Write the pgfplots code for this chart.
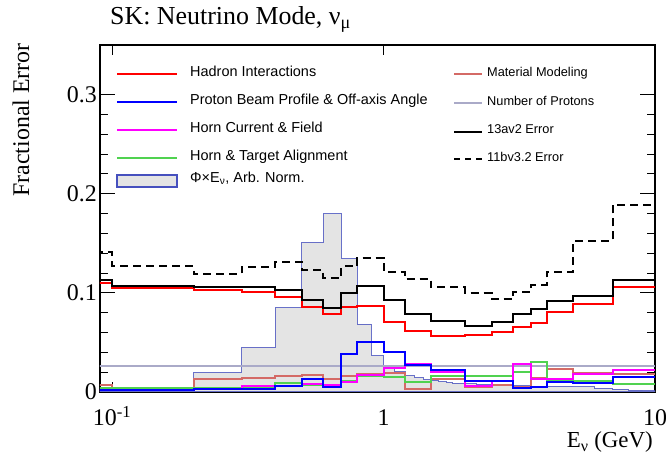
\documentclass[border=0pt]{standalone}
\usepackage{fontspec}
\setmainfont{Liberation Serif}
\newfontfamily\arial{Liberation Sans}
\usepackage{pgfplots}
\pgfplotsset{compat=1.18}
\definecolor{matcol}{RGB}{212,106,102}
\definecolor{protcol}{RGB}{170,170,200}
\definecolor{hgreen}{RGB}{80,210,80}
\definecolor{hmag}{RGB}{255,0,255}
\definecolor{hblue}{RGB}{0,0,255}
\definecolor{hred}{RGB}{255,0,0}
\definecolor{fluxfill}{RGB}{228,228,228}
\definecolor{fluxline}{RGB}{70,80,190}
\begin{document}
\begin{tikzpicture}[x=1bp,y=1bp]
\begin{axis}[
  at={(100bp,64bp)}, anchor=south west,
  width=555bp, height=347bp, scale only axis,
  xmode=log, log basis x=10,
  xmin=0.0903, xmax=10, ymin=0, ymax=0.35,
  xtick={0.1,1,10}, xticklabels={10\textsuperscript{-1},1,10},
  ytick={0,0.1,0.2,0.3}, yticklabels={0,0.1,0.2,0.3},
  minor y tick num=4,
  tick align=inside,
  major tick length=15bp, minor tick length=8bp,
  xtick style={/pgfplots/major tick length=10bp,/pgfplots/minor tick length=5bp},
  every tick/.style={black,line width=0.8bp},
  axis line style={line width=1.2bp},
  tick label style={font=\fontsize{24}{24}\selectfont},
  yticklabel style={anchor=east,inner sep=0pt,xshift=-3bp},
  xticklabel style={anchor=base,inner sep=0pt,yshift=-34bp},
  clip=true,
  const plot,
  every axis plot/.append style={line width=2bp},
]
% flux (arb. norm.)
\addplot[fill=fluxfill, draw=fluxline, draw opacity=0.8, line width=1bp] coordinates {
(0.05,0.001) (0.1,0.003) (0.2,0.0195) (0.3,0.045) (0.4,0.0852) (0.5,0.151)
(0.6,0.1798) (0.7,0.1343) (0.8,0.0684) (0.9,0.0367) (1.0,0.025) (1.1,0.0205)
(1.2,0.0165) (1.3,0.0145) (1.4,0.0128) (1.5,0.0115) (1.6,0.0105) (1.7,0.0097)
(1.8,0.009) (1.9,0.0085) (2.0,0.0082) (2.2,0.0078) (2.4,0.0074) (2.6,0.007)
(2.8,0.0067) (3.0,0.0064) (3.5,0.006) (4.0,0.0058) (5.0,0.0052) (6.0,0.004)
(7.0,0.0028) (8.0,0.002) (9.0,0.0012) (10.0,0.0012)} \closedcycle;
% number of protons
\addplot[protcol] coordinates {(0.05,0.0262) (10,0.0262)};
% material modeling
\addplot[matcol] coordinates {
(0.05,0.0067) (0.1,0.0045) (0.2,0.013) (0.3,0.0145) (0.4,0.016) (0.5,0.0175)
(0.6,0.0135) (0.7,0.0163) (0.8,0.0178) (1.0,0.019) (1.2,0.0035) (1.5,0.0135)
(2.0,0.005) (2.5,0.0069) (3.0,0.0055) (3.5,0.014) (4.0,0.023) (5.0,0.0192)
(7.0,0.0178) (10.0,0.0178)};
% horn & target alignment
\addplot[hgreen] coordinates {
(0.05,0.004) (0.1,0.004) (0.2,0.0043) (0.3,0.005) (0.4,0.009) (0.5,0.007)
(0.6,0.0075) (0.7,0.0114) (0.8,0.0162) (1.0,0.0155) (1.2,0.0104) (1.5,0.0165)
(2.0,0.0165) (2.5,0.0165) (3.0,0.0205) (3.5,0.0306) (4.0,0.0125) (5.0,0.011)
(7.0,0.0078) (10.0,0.0078)};
% horn current & field
\addplot[hmag] coordinates {
(0.05,0.0017) (0.1,0.0023) (0.2,0.003) (0.3,0.006) (0.4,0.006) (0.5,0.0085)
(0.6,0.0075) (0.7,0.0098) (0.8,0.0175) (1.0,0.024) (1.2,0.028) (1.5,0.020)
(2.0,0.006) (2.5,0.0115) (3.0,0.028) (3.5,0.0135) (4.0,0.0135) (5.0,0.0185)
(7.0,0.0222) (10.0,0.0222)};
% proton beam profile
\addplot[hblue] coordinates {
(0.05,0.002) (0.1,0.0023) (0.2,0.003) (0.3,0.0035) (0.4,0.006) (0.5,0.013)
(0.6,0.0054) (0.7,0.038) (0.8,0.0505) (1.0,0.040) (1.2,0.027) (1.5,0.022)
(2.0,0.0115) (2.5,0.0115) (3.0,0.0045) (3.5,0.005) (4.0,0.0098) (5.0,0.0095)
(7.0,0.0153) (10.0,0.0153)};
% hadron interactions
\addplot[hred] coordinates {
(0.05,0.1098) (0.1,0.1044) (0.2,0.1024) (0.3,0.101) (0.4,0.0963) (0.5,0.0862)
(0.6,0.0788) (0.7,0.0855) (0.8,0.0869) (1.0,0.071) (1.2,0.062) (1.5,0.0569)
(2.0,0.0576) (2.5,0.061) (3.0,0.066) (3.5,0.07) (4.0,0.0811) (5.0,0.0886)
(7.0,0.1054) (10.0,0.1054)};
% 13av2 error
\addplot[black] coordinates {
(0.05,0.113) (0.1,0.1074) (0.2,0.106) (0.3,0.1054) (0.4,0.103) (0.5,0.093)
(0.6,0.0845) (0.7,0.0997) (0.8,0.1074) (1.0,0.0923) (1.2,0.0788) (1.5,0.072)
(2.0,0.0667) (2.5,0.071) (3.0,0.0788) (3.5,0.0835) (4.0,0.0919) (5.0,0.097)
(7.0,0.113) (10.0,0.113)};
% 11bv3.2 error
\addplot[black, dash pattern=on 8bp off 5bp] coordinates {
(0.05,0.141) (0.1,0.1266) (0.2,0.1189) (0.3,0.126) (0.4,0.1313) (0.5,0.1232)
(0.6,0.1148) (0.7,0.1266) (0.8,0.135) (1.0,0.121) (1.2,0.1138) (1.5,0.1054)
(2.0,0.0997) (2.5,0.0936) (3.0,0.1013) (3.5,0.108) (4.0,0.1215) (5.0,0.1525)
(7.0,0.189) (10.0,0.189)};
\end{axis}
% title and labels
\node[anchor=base west, inner sep=0pt, font=\fontsize{26}{26}\selectfont] at (110,431) {SK: Neutrino Mode, ν\textsubscript{μ}};
\node[rotate=90, anchor=base east, inner sep=0pt, font=\fontsize{24}{24}\selectfont] at (29,413) {Fractional Error};
\node[anchor=base east, inner sep=0pt, font=\fontsize{23}{23}\selectfont] at (653,8) {E\textsubscript{ν} (GeV)};
% legend, left column
\begin{scope}[every node/.style={anchor=mid west, inner sep=0pt, font=\arial\fontsize{14.5}{14.5}\selectfont}]
\draw[hred, line width=2bp] (117,382) -- (177,382); \node at (190,382) {Hadron Interactions};
\draw[hblue, line width=2bp] (117,354) -- (177,354); \node at (190,354) {Proton Beam Profile \& Off-axis Angle};
\draw[hmag, line width=2bp] (117,326) -- (177,326); \node at (190,326) {Horn Current \& Field};
\draw[hgreen, line width=2bp] (117,298) -- (177,298); \node at (190,298) {Horn \& Target Alignment};
\draw[fill=fluxfill, draw=fluxline, line width=1.2bp] (117,269) rectangle (177,281); \node at (190,276) {Φ×E\textsubscript{ν}, Arb. Norm.};
\end{scope}
% legend, right column
\begin{scope}[every node/.style={anchor=mid west, inner sep=0pt, font=\arial\fontsize{12.8}{12.8}\selectfont}]
\draw[matcol, line width=2bp] (454,381.7) -- (482,381.7); \node at (487,381.7) {Material Modeling};
\draw[protcol, line width=2bp] (454,352.7) -- (482,352.7); \node at (487,352.7) {Number of Protons};
\draw[black, line width=2bp] (454,324.3) -- (482,324.3); \node at (487,324.3) {13av2 Error};
\draw[black, line width=2bp, dash pattern=on 6bp off 5bp] (454,296.7) -- (482,296.7); \node at (487,296.7) {11bv3.2 Error};
\end{scope}
\pgfresetboundingbox
\path[use as bounding box] (0,0) rectangle (666,456);
\end{tikzpicture}
\end{document}
